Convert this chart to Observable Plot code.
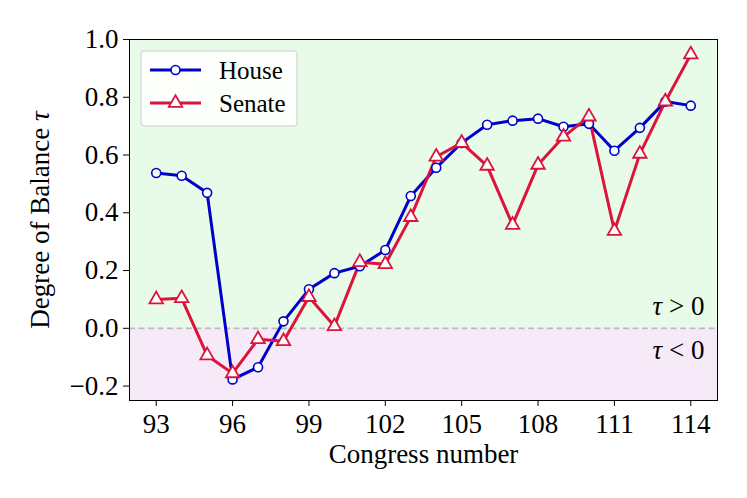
<!DOCTYPE html>
<html><head><meta charset="utf-8">
<script src="https://cdn.jsdelivr.net/npm/d3@7"></script>
<script src="https://cdn.jsdelivr.net/npm/@observablehq/plot@0.6"></script>
<style>body{margin:0;background:#fff} svg text{font-family:'Liberation Serif','DejaVu Serif',serif}</style>
</head><body><div id="chart"></div>
<script>
const congress = [93,94,95,96,97,98,99,100,101,102,103,104,105,106,107,108,109,110,111,112,113,114];
const house  = [0.538,0.528,0.469,-0.177,-0.135,0.024,0.135,0.191,0.215,0.271,0.458,0.556,0.642,0.705,0.719,0.726,0.698,0.708,0.615,0.694,0.785,0.771];
const senate = [0.100,0.104,-0.094,-0.156,-0.038,-0.045,0.108,0.007,0.229,0.222,0.385,0.594,0.642,0.5625,0.358,0.566,0.663,0.733,0.337,0.604,0.785,0.948];
const xTicks = [93,96,99,102,105,108,111,114];
const yTicks = [-0.2,0,0.2,0.4,0.6,0.8,1.0];
const regions = [{y1:0,y2:1.0,fill:"#e8fbe8"},{y1:-0.25,y2:0,fill:"#f6eaf8"}];
const series = [{name:"House",color:"#0000c8"},{name:"Senate",color:"#dc143c"}];

const xDom = [91.95,115.05];
const font = "'Liberation Serif','DejaVu Serif',serif";
const hData = congress.map((c,i)=>({c,v:house[i]}));
const sData = congress.map((c,i)=>({c,v:senate[i]}));

const chart = Plot.plot({
  width:747, height:498,
  marginLeft:129, marginRight:30, marginTop:39, marginBottom:98,
  style:{fontFamily:font, fontSize:"27px", color:"#000", background:"#fff"},
  x:{domain:xDom},
  y:{domain:[-0.25,1.0]},
  marks:[
    Plot.rect(regions,{x1:xDom[0],x2:xDom[1],y1:"y1",y2:"y2",fill:"fill"}),
    Plot.ruleY([0],{stroke:"#bbbbbb",strokeWidth:1.8,strokeDasharray:"6,3.5"}),
    Plot.line(hData,{x:"c",y:"v",stroke:series[0].color,strokeWidth:3}),
    Plot.line(sData,{x:"c",y:"v",stroke:series[1].color,strokeWidth:3}),
    Plot.dot(hData,{x:"c",y:"v",r:4.5,fill:"white",stroke:series[0].color,strokeWidth:1.6}),
    Plot.dot(sData,{x:"c",y:"v",r:5,symbol:"triangle",fill:"white",stroke:series[1].color,strokeWidth:1.8}),
    Plot.text(["τ > 0"],{x:xDom[1],y:0,dx:-13,dy:-22,textAnchor:"end",fontSize:27}),
    Plot.text(["τ < 0"],{x:xDom[1],y:0,dx:-13,dy:22,textAnchor:"end",fontSize:27}),
    Plot.frame({stroke:"#000",strokeWidth:1}),
    Plot.axisX({ticks:xTicks,tickSize:6,tickPadding:7,label:"Congress number",labelAnchor:"center",labelArrow:"none",labelOffset:62,fontSize:27}),
    Plot.axisY({ticks:yTicks,tickFormat:d3.format(".1f"),tickSize:6,tickPadding:5,label:"Degree of Balance τ",labelAnchor:"center",labelArrow:"none",labelOffset:100,fontSize:27})
  ]
});
document.getElementById("chart").appendChild(chart);

// legend
const svg = d3.select(chart);
const lg = svg.append("g").attr("font-size",25).attr("text-anchor","start");
lg.append("rect").attr("x",141).attr("y",51).attr("width",156).attr("height",75).attr("rx",3)
  .attr("fill","white").attr("fill-opacity",0.85).attr("stroke","#cccccc");
series.forEach((s,i)=>{
  const y = 70 + i*33;
  lg.append("line").attr("x1",150).attr("x2",201).attr("y1",y).attr("y2",y).attr("stroke",s.color).attr("stroke-width",3);
  if(i===0){
    lg.append("circle").attr("cx",175.5).attr("cy",y).attr("r",4.5).attr("fill","white").attr("stroke",s.color).attr("stroke-width",1.6);
  } else {
    lg.append("path").attr("d",d3.symbol().type(d3.symbolTriangle).size(Math.PI*5*5)())
      .attr("transform",`translate(175.5,${y})`).attr("fill","white").attr("stroke",s.color).attr("stroke-width",1.8);
  }
  lg.append("text").attr("x",219).attr("y",y).attr("dy","0.35em").attr("font-size",25).text(s.name);
});
// italic tau
svg.selectAll("text").each(function(){
  const t=d3.select(this);
  if(t.selectAll("tspan").size()===0 && t.text().includes("τ")){
    const parts=t.text().split("τ");
    t.text(null);
    t.append("tspan").text(parts[0]);
    t.append("tspan").attr("font-style","italic").text("τ");
    t.append("tspan").text(parts[1]);
  }
});
</script></body></html>
